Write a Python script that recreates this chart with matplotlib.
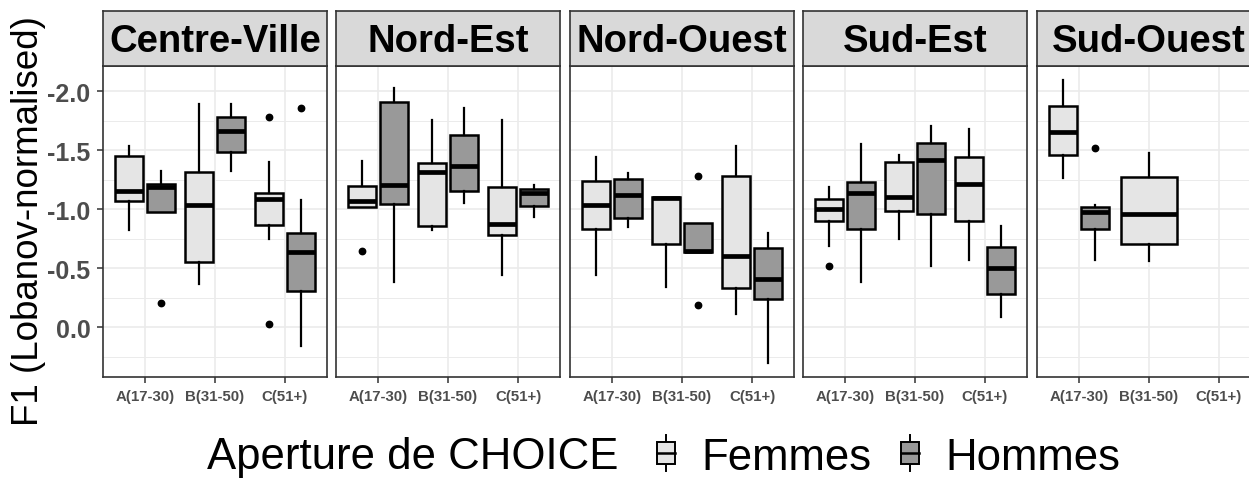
import numpy as np
import matplotlib
matplotlib.use("Agg")
import matplotlib.pyplot as plt
from matplotlib.patches import Patch, Rectangle
from matplotlib.lines import Line2D
from matplotlib.legend_handler import HandlerBase
from matplotlib.ticker import FixedLocator, FormatStrFormatter

plt.rcParams['font.family'] = ['Liberation Sans', 'DejaVu Sans']
plt.rcParams['axes.unicode_minus'] = False

regions = ["Centre-Ville", "Nord-Est", "Nord-Ouest", "Sud-Est", "Sud-Ouest"]
age_groups = ["A(17-30)", "B(31-50)", "C(51+)"]
sexes = ["Femmes", "Hommes"]

# box summaries per age group: [whisker low, q1, median, q3, whisker high]
centre_ville_f = [[-1.534, -1.449, -1.153, -1.073, -0.822],
                  [-1.893, -1.311, -1.034, -0.554, -0.370],
                  [-1.401, -1.133, -1.085, -0.870, -0.751]]
centre_ville_h = [[-1.322, -1.209, -1.190, -0.977, -0.977],
                  [-1.893, -1.782, -1.661, -1.486, -1.322],
                  [-1.076, -0.794, -0.633, -0.308, 0.158]]
nord_est_f = [[-1.410, -1.198, -1.071, -1.020, -1.020],
              [-1.754, -1.393, -1.316, -0.859, -0.822],
              [-1.754, -1.186, -0.876, -0.780, -0.446]]
nord_est_h = [[-2.028, -1.904, -1.203, -1.040, -0.384],
              [-1.859, -1.627, -1.367, -1.153, -1.048],
              [-1.203, -1.175, -1.138, -1.028, -0.935]]
nord_ouest_f = [[-1.441, -1.240, -1.034, -0.836, -0.441],
                [-1.107, -1.107, -1.096, -0.709, -0.339],
                [-1.534, -1.285, -0.602, -0.333, -0.116]]
nord_ouest_h = [[-1.308, -1.254, -1.119, -0.927, -0.853],
                [-0.881, -0.881, -0.647, -0.638, -0.638],
                [-0.802, -0.672, -0.412, -0.243, 0.302]]
sud_est_f = [[-1.184, -1.085, -1.000, -0.898, -0.686],
             [-1.458, -1.401, -1.099, -0.986, -0.751],
             [-1.678, -1.444, -1.212, -0.898, -0.573]]
sud_est_h = [[-1.548, -1.232, -1.133, -0.836, -0.379],
             [-1.706, -1.562, -1.415, -0.963, -0.517],
             [-0.859, -0.681, -0.503, -0.285, -0.088]]
sud_ouest_f = [[-2.093, -1.873, -1.650, -1.458, -1.266],
               [-1.477, -1.274, -0.955, -0.701, -0.559],
               None]
sud_ouest_h = [[-1.034, -1.020, -0.972, -0.836, -0.573],
               None,
               None]

# outlying points per age group
centre_ville_f_out = [[], [], [-1.777, -0.025]]
centre_ville_h_out = [[-0.206], [], [-1.856]]
nord_est_f_out = [[-0.644], [], []]
nord_est_h_out = [[], [], []]
nord_ouest_f_out = [[], [], []]
nord_ouest_h_out = [[], [-1.285, -0.186], []]
sud_est_f_out = [[-0.520], [], []]
sud_est_h_out = [[], [], []]
sud_ouest_f_out = [[], [], []]
sud_ouest_h_out = [[-1.520], [], []]

stats = {
    ("Centre-Ville", "Femmes"): (centre_ville_f, centre_ville_f_out),
    ("Centre-Ville", "Hommes"): (centre_ville_h, centre_ville_h_out),
    ("Nord-Est", "Femmes"): (nord_est_f, nord_est_f_out),
    ("Nord-Est", "Hommes"): (nord_est_h, nord_est_h_out),
    ("Nord-Ouest", "Femmes"): (nord_ouest_f, nord_ouest_f_out),
    ("Nord-Ouest", "Hommes"): (nord_ouest_h, nord_ouest_h_out),
    ("Sud-Est", "Femmes"): (sud_est_f, sud_est_f_out),
    ("Sud-Est", "Hommes"): (sud_est_h, sud_est_h_out),
    ("Sud-Ouest", "Femmes"): (sud_ouest_f, sud_ouest_f_out),
    ("Sud-Ouest", "Hommes"): (sud_ouest_h, sud_ouest_h_out),
}

fills = {"Femmes": "#E5E5E5", "Hommes": "#999999"}
border = "#333333"
grid_col = "#EBEBEB"
tick_col = "#4D4D4D"

# shared y range with 5% padding, reversed axis
all_vals = []
for key, (boxes, outs) in stats.items():
    for b, o in zip(boxes, outs):
        if b is not None:
            all_vals += b
        all_vals += o
vmin, vmax = min(all_vals), max(all_vals)
pad = 0.05 * (vmax - vmin)
ylo, yhi = vmin - pad, vmax + pad

W, H = 1249, 481
fig = plt.figure(figsize=(W / 100, H / 100), dpi=100)

panel_left = [103, 336, 570, 803, 1037]
panel_w = 224
panel_top, panel_bot = 67, 378
strip_top = 12


def fx(px):
    return px / W


def fy(py):
    return 1 - py / H


for i, region in enumerate(regions):
    ax = fig.add_axes([fx(panel_left[i]), fy(panel_bot), fx(panel_w),
                       (panel_bot - panel_top) / H])
    ax.set_xlim(0.4, 3.6)
    ax.set_ylim(yhi, ylo)

    ax.yaxis.set_major_locator(FixedLocator([-2.0, -1.5, -1.0, -0.5, 0.0]))
    ax.yaxis.set_minor_locator(FixedLocator([-1.75, -1.25, -0.75, -0.25, 0.25]))
    ax.yaxis.set_major_formatter(FormatStrFormatter('%.1f'))
    ax.set_xticks(np.arange(1, len(age_groups) + 1))
    ax.set_xticklabels(age_groups)
    ax.grid(True, which='major', color=grid_col, lw=1.2, zorder=0)
    ax.grid(True, which='minor', axis='y', color=grid_col, lw=0.7, zorder=0)
    ax.set_axisbelow(True)

    for sp in ax.spines.values():
        sp.set_color(border)
        sp.set_linewidth(1.2)

    ax.tick_params(axis='x', which='major', length=4, width=1.1, color=border,
                   labelsize=10.8, labelcolor=tick_col, pad=5)
    for lab in ax.get_xticklabels():
        lab.set_fontweight('bold')
    if i == 0:
        ax.tick_params(axis='y', which='major', length=4, width=1.1, color=border,
                       labelsize=18, labelcolor=tick_col, pad=5)
        for lab in ax.get_yticklabels():
            lab.set_fontweight('bold')
    else:
        ax.tick_params(axis='y', which='major', length=0, labelleft=False)
    ax.tick_params(axis='y', which='minor', length=0)

    for j in range(len(age_groups)):
        present = [s for s in sexes if stats[(region, s)][0][j] is not None]
        if len(present) == 2:
            offsets, width = [-0.225, 0.225], 0.405
        else:
            offsets, width = [0.0], 0.81
        for s, off in zip(present, offsets):
            lo, q1, med, q3, hi = stats[(region, s)][0][j]
            bx = dict(whislo=lo, q1=q1, med=med, q3=q3, whishi=hi,
                      fliers=stats[(region, s)][1][j])
            ax.bxp([bx], positions=[j + 1 + off], widths=width,
                   patch_artist=True, showcaps=False, manage_ticks=False,
                   boxprops=dict(facecolor=fills[s], edgecolor='black', lw=1.8),
                   medianprops=dict(color='black', lw=3.4, solid_capstyle='butt'),
                   whiskerprops=dict(color='black', lw=1.6),
                   flierprops=dict(marker='o', markerfacecolor='black',
                                   markeredgecolor='black', markersize=4.6))

    # facet strip
    sax = fig.add_axes([fx(panel_left[i]), fy(panel_top), fx(panel_w),
                        (panel_top - strip_top) / H])
    sax.set_facecolor("#D9D9D9")
    sax.set_xticks([])
    sax.set_yticks([])
    for sp in sax.spines.values():
        sp.set_color(border)
        sp.set_linewidth(1.2)
    sax.text(0.5, 0.45, region, ha='center', va='center', fontsize=27.5,
             fontweight='bold', color='black', transform=sax.transAxes)

fig.text(fx(29), fy(221), "F1 (Lobanov-normalised)", rotation=90,
         ha='center', va='center', fontsize=26.5, color='black')


class BoxKey(HandlerBase):
    def create_artists(self, legend, orig_handle, xdescent, ydescent,
                       width, height, fontsize, trans):
        cx = width / 2 - xdescent
        cy = height / 2 - ydescent
        bw, bh, wh = 13.0, 15.5, 26.0
        whisk = Line2D([cx, cx], [cy - wh / 2, cy + wh / 2], color='black',
                       lw=1.4, transform=trans)
        rect = Rectangle((cx - bw / 2, cy - bh / 2), bw, bh,
                         facecolor=orig_handle.get_facecolor(),
                         edgecolor='black', lw=1.4, transform=trans)
        med = Line2D([cx - bw / 2, cx + bw / 2], [cy, cy],
                     color='black', lw=1.8, transform=trans)
        return [whisk, rect, med]


handles = [Patch(facecolor=fills[s], label=s) for s in sexes]
fig.text(fx(207), fy(458), "Aperture de CHOICE", ha='left',
         va='center', fontsize=31.5, color='black')
fig.legend(handles=handles, loc='center left',
           bbox_to_anchor=(fx(655), fy(458)), ncol=2, frameon=False,
           fontsize=31.5, handler_map={Patch: BoxKey()}, handlelength=0.52,
           handleheight=0.7, handletextpad=0.55, columnspacing=0.6,
           borderpad=0, borderaxespad=0)

fig.savefig("out.png", dpi=100)
